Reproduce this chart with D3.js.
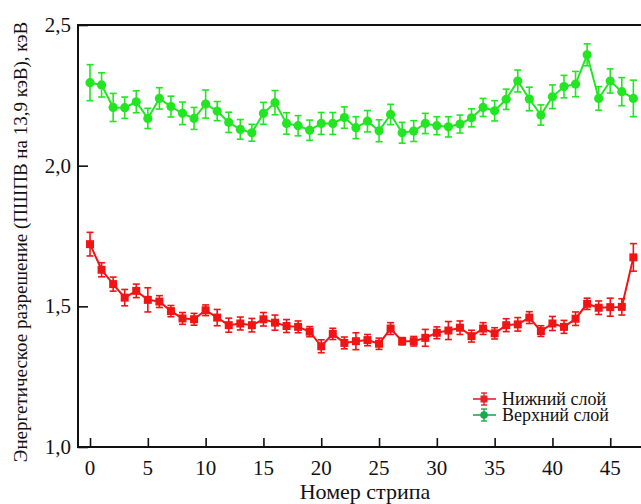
<!DOCTYPE html>
<html>
<head>
<meta charset="utf-8">
<script src="https://cdn.jsdelivr.net/npm/d3@7"></script>
<style>
  body { margin: 0; font-family: "Liberation Serif"; }
  svg, svg text { font-family: "Liberation Serif" !important; }
</style>
</head>
<body>
<svg id="chart" width="641" height="504" style="font-family: 'Liberation Serif'"></svg>
<script>
// Strip numbers 0..47
const strips = d3.range(0, 48);

// Lower layer: energy resolution (FWHM at 13.9 keV), keV, and its uncertainty
const lowerValues = [1.721, 1.630, 1.579, 1.531, 1.555, 1.523, 1.517, 1.483, 1.457, 1.454,
  1.486, 1.460, 1.433, 1.439, 1.433, 1.454, 1.442, 1.430, 1.427, 1.410,
  1.358, 1.402, 1.370, 1.376, 1.380, 1.367, 1.421, 1.376, 1.376, 1.388,
  1.406, 1.414, 1.424, 1.394, 1.421, 1.404, 1.433, 1.436, 1.460, 1.412,
  1.439, 1.427, 1.456, 1.509, 1.495, 1.497, 1.498, 1.674];
const lowerErrors = [0.042, 0.025, 0.025, 0.029, 0.024, 0.043, 0.021, 0.020, 0.021, 0.021,
  0.019, 0.029, 0.025, 0.023, 0.024, 0.024, 0.027, 0.023, 0.021, 0.018,
  0.023, 0.020, 0.021, 0.030, 0.020, 0.020, 0.021, 0.013, 0.017, 0.030,
  0.021, 0.032, 0.024, 0.021, 0.021, 0.020, 0.023, 0.024, 0.021, 0.019,
  0.025, 0.023, 0.024, 0.020, 0.024, 0.032, 0.029, 0.049];

// Upper layer
const upperValues = [2.295, 2.287, 2.207, 2.206, 2.227, 2.168, 2.239, 2.210, 2.186, 2.168,
  2.219, 2.194, 2.154, 2.129, 2.117, 2.186, 2.224, 2.150, 2.142, 2.126,
  2.150, 2.150, 2.171, 2.135, 2.158, 2.124, 2.182, 2.117, 2.123, 2.150,
  2.142, 2.138, 2.148, 2.170, 2.207, 2.195, 2.236, 2.301, 2.237, 2.180,
  2.245, 2.281, 2.290, 2.394, 2.239, 2.301, 2.263, 2.239];
const upperErrors = [0.064, 0.043, 0.050, 0.038, 0.039, 0.036, 0.038, 0.037, 0.040, 0.039,
  0.050, 0.034, 0.036, 0.035, 0.030, 0.039, 0.043, 0.038, 0.036, 0.036,
  0.039, 0.039, 0.038, 0.039, 0.038, 0.039, 0.036, 0.037, 0.037, 0.036,
  0.032, 0.036, 0.032, 0.032, 0.032, 0.036, 0.036, 0.039, 0.042, 0.036,
  0.042, 0.040, 0.045, 0.039, 0.042, 0.043, 0.050, 0.065];

const xTicks = [0, 5, 10, 15, 20, 25, 30, 35, 40, 45];
const yTicks = [1.0, 1.5, 2.0, 2.5];
const seriesNames = ["Нижний слой", "Верхний слой"];
const xTitle = "Номер стрипа";
const yTitle = "Энергетическое разрешение (ПШПВ на 13,9 кэВ), кэВ";

const redColor = "#f01414";
const greenColor = "#22e622";
const legendRed = "#e8202a";
const legendGreen = "#1aaa4c";
const inkColor = "#111";

const svg = d3.select("#chart");
const plotL = 78, plotR = 641, plotT = 25, plotB = 447;

const x = d3.scaleLinear().domain([-1.04, 47.66]).range([plotL, plotR]);
const y = d3.scaleLinear().domain([1.0, 2.5]).range([plotB, plotT]);

const fmt = d => d3.format(".1f")(d).replace(".", ",");

// Text helper: serif face, dark ink
function label(parent, size) {
  return parent.append("text")
    .style("font-family", '"Liberation Serif"')
    .attr("font-size", size)
    .attr("fill", inkColor);
}

// Frame: top, left, bottom
svg.append("path")
  .attr("d", `M${plotR + 2},${plotT}H${plotL}V${plotB}H${plotR + 2}`)
  .attr("fill", "none").attr("stroke", inkColor).attr("stroke-width", 2);

// Axes with inward ticks
const yAxis = svg.append("g").attr("transform", `translate(${plotL},0)`)
  .call(d3.axisRight(y).tickValues(yTicks).tickSize(10).tickFormat(""));
yAxis.select(".domain").remove();
yAxis.selectAll("line").attr("stroke", inkColor).attr("stroke-width", 1.6);

const yLab = svg.append("g");
yTicks.forEach(t => {
  label(yLab, 21).attr("x", plotL - 7).attr("y", y(t) + 7)
    .attr("text-anchor", "end").text(fmt(t));
});

const xAxis = svg.append("g").attr("transform", `translate(0,${plotB})`)
  .call(d3.axisTop(x).tickValues(xTicks).tickSize(9).tickFormat(""));
xAxis.select(".domain").remove();
xAxis.selectAll("line").attr("stroke", inkColor).attr("stroke-width", 1.6);

const xLab = svg.append("g");
xTicks.forEach(t => {
  label(xLab, 21).attr("x", x(t)).attr("y", plotB + 28)
    .attr("text-anchor", "middle").text(t);
});

// Axis titles
label(svg, 22).attr("x", 365).attr("y", 499)
  .attr("text-anchor", "middle").text(xTitle);

label(svg, 19).attr("transform", `translate(27,242) rotate(-90)`)
  .attr("text-anchor", "middle").text(yTitle);

// Series
const series = [
  { name: seriesNames[0], values: lowerValues, errors: lowerErrors, color: redColor, shape: "square" },
  { name: seriesNames[1], values: upperValues, errors: upperErrors, color: greenColor, shape: "circle" }
];

const line = d3.line().x(d => x(d.s)).y(d => y(d.v));
const capW = 3.5;

series.forEach(sr => {
  const pts = strips.map((s, i) => ({ s, v: sr.values[i], e: sr.errors[i] }));
  const g = svg.append("g");

  g.append("path").datum(pts)
    .attr("d", line).attr("fill", "none")
    .attr("stroke", sr.color).attr("stroke-width", 2);

  const eb = g.append("g").attr("stroke", sr.color).attr("stroke-width", 1.6);
  eb.selectAll(".bar").data(pts).join("line").attr("class", "bar")
    .attr("x1", d => x(d.s)).attr("x2", d => x(d.s))
    .attr("y1", d => y(d.v + d.e)).attr("y2", d => y(d.v - d.e));
  eb.selectAll(".capT").data(pts).join("line").attr("class", "capT")
    .attr("x1", d => x(d.s) - capW).attr("x2", d => x(d.s) + capW)
    .attr("y1", d => y(d.v + d.e)).attr("y2", d => y(d.v + d.e));
  eb.selectAll(".capB").data(pts).join("line").attr("class", "capB")
    .attr("x1", d => x(d.s) - capW).attr("x2", d => x(d.s) + capW)
    .attr("y1", d => y(d.v - d.e)).attr("y2", d => y(d.v - d.e));

  if (sr.shape === "square") {
    g.selectAll("rect").data(pts).join("rect")
      .attr("x", d => x(d.s) - 4).attr("y", d => y(d.v) - 4)
      .attr("width", 8).attr("height", 8).attr("fill", sr.color);
  } else {
    g.selectAll("circle").data(pts).join("circle")
      .attr("cx", d => x(d.s)).attr("cy", d => y(d.v))
      .attr("r", 4.6).attr("fill", sr.color);
  }
});

// Legend
const legend = [
  { name: seriesNames[0], color: legendRed, shape: "square", cy: 399 },
  { name: seriesNames[1], color: legendGreen, shape: "circle", cy: 415 }
];
legend.forEach(l => {
  const g = svg.append("g").attr("stroke", l.color).attr("fill", l.color);
  g.append("line").attr("x1", 473).attr("x2", 496).attr("y1", l.cy).attr("y2", l.cy).attr("stroke-width", 1.6);
  g.append("line").attr("x1", 484).attr("x2", 484).attr("y1", l.cy - 6).attr("y2", l.cy + 6).attr("stroke-width", 1.4);
  g.append("line").attr("x1", 481).attr("x2", 487).attr("y1", l.cy - 6).attr("y2", l.cy - 6).attr("stroke-width", 1.4);
  g.append("line").attr("x1", 481).attr("x2", 487).attr("y1", l.cy + 6).attr("y2", l.cy + 6).attr("stroke-width", 1.4);
  if (l.shape === "square") {
    g.append("rect").attr("x", 480.5).attr("y", l.cy - 3.5).attr("width", 7).attr("height", 7).attr("stroke", "none");
  } else {
    g.append("circle").attr("cx", 484).attr("cy", l.cy).attr("r", 3.8).attr("stroke", "none");
  }
  label(svg, 18).attr("x", 502).attr("y", l.cy + 5.5).text(l.name);
});
</script>
</body>
</html>
